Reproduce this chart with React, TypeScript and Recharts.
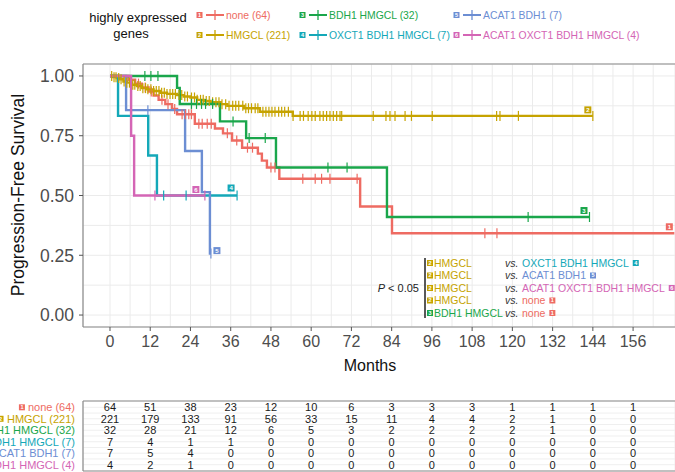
import React from 'react';
import {
  ComposedChart,
  ScatterChart,
  Line,
  Scatter,
  XAxis,
  YAxis,
  CartesianGrid,
  ReferenceLine,
} from 'recharts';

// ---------- data ----------
const groupNames = ['none', 'HMGCL', 'BDH1 HMGCL', 'OXCT1 BDH1 HMGCL', 'ACAT1 BDH1', 'ACAT1 OXCT1 BDH1 HMGCL'];
const groupCounts = [64, 221, 32, 7, 7, 4];
const groupColors = ['#EE6B62', '#C6A300', '#1AA64B', '#14A8B8', '#6C8ED3', '#D465B5'];

// step times (months) and survival after each step; last entry = end of follow-up
const noneTimes = [0, 5.5, 7.5, 9.5, 11.5, 13, 14.5, 16.5, 18.5, 20, 25.3, 31.3, 33.7, 36.4, 39.4, 44.1, 45.3, 46.8, 50.5, 74.6, 84.1, 168.3];
const noneSurv = [1, 0.984, 0.968, 0.952, 0.935, 0.918, 0.9, 0.882, 0.862, 0.84, 0.8, 0.78, 0.76, 0.73, 0.7, 0.675, 0.646, 0.617, 0.57, 0.454, 0.342, 0.342];
const noneCensor = [8.5, 10.5, 12.3, 15.5, 17.3, 19.3, 21.5, 22.5, 23.5, 24.3, 26.5, 27.5, 29, 30.2, 35, 37.8, 41, 42.5, 48, 49.2, 57.5, 61.2, 63.1, 65.6, 73.7, 111.8, 115.4];

const hmgclTimes = [0, 1, 2, 3, 4, 5, 6.5, 8, 9.5, 11, 13, 15, 17, 20, 22, 24, 26, 28, 30, 33, 35, 40, 44.7, 54.5, 144];
const hmgclSurv = [1, 0.995, 0.991, 0.986, 0.977, 0.972, 0.963, 0.958, 0.949, 0.944, 0.937, 0.93, 0.925, 0.92, 0.914, 0.91, 0.9, 0.895, 0.89, 0.882, 0.875, 0.865, 0.85, 0.833, 0.833];
const hmgclCensor = [0.5, 1.2, 1.8, 2.6, 3.3, 4.2, 5, 5.8, 6.8, 7.4, 8.3, 9, 9.8, 10.6, 11.3, 12.2, 13, 13.8, 14.6, 15.4, 16.2, 17, 17.9, 18.7, 19.5, 20.6, 21.4, 22.3, 23.1, 24.3, 25.2, 26, 27, 27.8, 28.7, 29.6, 30.6, 31.6, 32.5, 33.4, 34.5, 35.5, 36.6, 37.5, 38.4, 39.6, 40.5, 41.3, 42.2, 43.3, 44.1, 45.6, 46.5, 47.4, 48.3, 49.2, 50.3, 51.2, 52.1, 53.2, 54.6, 56.7, 57.7, 59.1, 60.2, 61.2, 62.6, 63.6, 64.6, 65.6, 66.6, 67.6, 68.6, 69.1, 78.5, 82.3, 83.5, 85, 88, 89.9, 96.1, 115.3, 116.3, 121.8, 144];

const bdhTimes = [0, 20, 20.8, 32.8, 40.6, 49.5, 82.6, 143];
const bdhSurv = [1, 0.95, 0.883, 0.81, 0.74, 0.617, 0.41, 0.41];
const bdhCensor = [10.4, 12.2, 14.3, 24.3, 25.8, 27.3, 28.5, 30.6, 36.7, 41.5, 46.3, 65, 70.7, 124.7, 143];

const oxctTimes = [0, 2.4, 11.4, 14, 37.9];
const oxctSurv = [1, 0.833, 0.667, 0.5, 0.5];
const oxctCensor = [16, 22.7, 37.9];

const acatTimes = [0, 4.8, 22.4, 27.4, 29.8, 30.1];
const acatSurv = [1, 0.857, 0.686, 0.514, 0.257, 0.257];
const acatCensor = [11.3, 30.1];

const allTimes = [0, 6.3, 7.2, 28.3];
const allSurv = [1, 0.75, 0.5, 0.5];
const allCensor = [13.4, 28.3];

// axis ticks
const monthTicks = [0, 12, 24, 36, 48, 60, 72, 84, 96, 108, 120, 132, 144, 156];
const minorMonthTicks = [6, 18, 30, 42, 54, 66, 78, 90, 102, 114, 126, 138, 150, 162];
const survTicks = [0, 0.25, 0.5, 0.75, 1];
const minorSurvTicks = [0.125, 0.375, 0.625, 0.875];

// number at risk
const riskNone = [64, 51, 38, 23, 12, 10, 6, 3, 3, 3, 1, 1, 1, 1];
const riskHmgcl = [221, 179, 133, 91, 56, 33, 15, 11, 4, 4, 2, 1, 0, 0];
const riskBdh = [32, 28, 21, 12, 6, 5, 3, 2, 2, 2, 2, 1, 0, 0];
const riskOxct = [7, 4, 1, 1, 0, 0, 0, 0, 0, 0, 0, 0, 0, 0];
const riskAcat = [7, 5, 4, 0, 0, 0, 0, 0, 0, 0, 0, 0, 0, 0];
const riskAll = [4, 2, 1, 0, 0, 0, 0, 0, 0, 0, 0, 0, 0, 0];

// pairwise comparisons with P < 0.05 (group indices)
const pairLeft = [1, 1, 1, 1, 2];
const pairRight = [3, 4, 5, 0, 0];

// ---------- styling / layout ----------
const FONT = '"Liberation Sans", Arial, Helvetica, sans-serif';
const X_DOMAIN: [number, number] = [-8.05, 168.5];
const badgeOffsets = [[-5, -6.5], [-5, -6], [-5.5, -6.5], [-6, -7.5], [6, -3], [-9, -6]];

const groups = [
  { times: noneTimes, surv: noneSurv, censor: noneCensor },
  { times: hmgclTimes, surv: hmgclSurv, censor: hmgclCensor },
  { times: bdhTimes, surv: bdhSurv, censor: bdhCensor },
  { times: oxctTimes, surv: oxctSurv, censor: oxctCensor },
  { times: acatTimes, surv: acatSurv, censor: acatCensor },
  { times: allTimes, surv: allSurv, censor: allCensor },
];
const riskRows = [riskNone, riskHmgcl, riskBdh, riskOxct, riskAcat, riskAll];

const survAt = (times: number[], surv: number[], t: number) => {
  let s = surv[0];
  for (let i = 0; i < times.length; i++) if (times[i] <= t) s = surv[i];
  return s;
};

let measureCtx: CanvasRenderingContext2D | null = null;
const textWidth = (s: string, size: number, italic = false) => {
  if (!measureCtx) measureCtx = document.createElement('canvas').getContext('2d');
  if (!measureCtx) return s.length * size * 0.55;
  measureCtx.font = `${italic ? 'italic ' : ''}${size}px "Liberation Sans"`;
  return measureCtx.measureText(s).width;
};

const Badge = ({ x, y, n, size = 7, fs = 6 }: { x: number; y: number; n: number; size?: number; fs?: number }) => (
  <g>
    <rect x={x - size / 2} y={y - size / 2} width={size} height={size} fill={groupColors[n - 1]} />
    <text x={x} y={y} dy="0.36em" textAnchor="middle" fontSize={fs} fontWeight="bold" fill="#fff">
      {n}
    </text>
  </g>
);

const allXTicks = [...monthTicks, ...minorMonthTicks].sort((a, b) => a - b);
const allYTicks = [...survTicks, ...minorSurvTicks].sort((a, b) => a - b);

const XTick = (props: any) => {
  const { x, y, payload } = props;
  if (!monthTicks.includes(payload.value)) return <g />;
  return (
    <g>
      <line x1={x} x2={x} y1={y - 6} y2={y - 2} stroke="#555" strokeWidth={1} />
      <text x={x} y={y} dy="0.85em" textAnchor="middle" fontSize={16} fill="#4D4D4D">
        {payload.value}
      </text>
    </g>
  );
};

const YTick = (props: any) => {
  const { x, y, payload } = props;
  if (!survTicks.includes(payload.value)) return <g />;
  return (
    <g>
      <line x1={x + 4} x2={x + 8} y1={y} y2={y} stroke="#555" strokeWidth={1} />
      <text x={x - 1} y={y} dy="0.36em" textAnchor="end" fontSize={17.5} fill="#4D4D4D">
        {payload.value.toFixed(2)}
      </text>
    </g>
  );
};

const TableYTick = (props: any) => {
  const { x, y, payload } = props;
  const r = payload.value;
  if (!Number.isInteger(r)) return <g />;
  const label = `${groupNames[r - 1]} (${groupCounts[r - 1]})`;
  const w = textWidth(label, 11);
  return (
    <g>
      <Badge x={x - w - 6} y={y} n={r} size={6} fs={5.5} />
      <text x={x} y={y} dy="0.36em" textAnchor="end" fontSize={11} fill={groupColors[r - 1]}>
        {label}
      </text>
    </g>
  );
};

const censorShape = (color: string) => (p: any) => (
  <line x1={p.cx} x2={p.cx} y1={p.cy - 5} y2={p.cy + 5} stroke={color} strokeWidth={1.2} />
);

const badgeShape = (gi: number) => (p: any) => (
  <Badge x={p.cx + badgeOffsets[gi][0]} y={p.cy + badgeOffsets[gi][1]} n={gi + 1} />
);

const tableData = riskRows.flatMap((row, ri) => row.map((n, i) => ({ x: monthTicks[i], y: ri + 1, n })));

export default function App() {
  const legendCols = [197, 300, 454];
  const legendRows = [15, 35];
  const legendFs = 10.4;
  const pRowY = (i: number) => 263 + i * 12.5;
  return (
    <div style={{ position: 'absolute', left: 0, top: 0, width: 675, height: 472, overflow: 'hidden', background: '#fff', fontFamily: FONT }}>
      <div style={{ position: 'absolute', left: 0, top: 0 }}>
        <ComposedChart width={675} height={380} margin={{ top: 64, right: 0, bottom: 0, left: 0 }}>
          <CartesianGrid stroke="#EBEBEB" strokeWidth={1} />
          <XAxis
            type="number"
            dataKey="x"
            domain={X_DOMAIN}
            allowDataOverflow
            ticks={allXTicks}
            interval={0}
            tick={<XTick />}
            tickLine={false}
            tickSize={4}
            tickMargin={2}
            height={53}
            axisLine={{ stroke: '#8A8A8A', strokeWidth: 1.2 }}
          />
          <YAxis
            type="number"
            dataKey="y"
            domain={[-0.05, 1.05]}
            allowDataOverflow
            ticks={allYTicks}
            interval={0}
            tick={<YTick />}
            tickLine={false}
            tickSize={4}
            tickMargin={4}
            width={83}
            axisLine={{ stroke: '#8A8A8A', strokeWidth: 1.2 }}
          />
          <ReferenceLine y={1.05} stroke="#8A8A8A" strokeWidth={1.2} />
          {groups.map((g, gi) => (
            <Line
              key={'l' + gi}
              data={g.times.map((t, i) => ({ x: t, y: g.surv[i] }))}
              dataKey="y"
              type="stepAfter"
              stroke={groupColors[gi]}
              strokeWidth={2.4}
              dot={false}
              activeDot={false}
              isAnimationActive={false}
            />
          ))}
          {groups.map((g, gi) => (
            <Scatter
              key={'c' + gi}
              data={g.censor.map((t) => ({ x: t, y: survAt(g.times, g.surv, t) }))}
              dataKey="y"
              shape={censorShape(groupColors[gi])}
              isAnimationActive={false}
            />
          ))}
          {groups.map((g, gi) => (
            <Scatter
              key={'b' + gi}
              data={[{ x: g.times[g.times.length - 1], y: g.surv[g.surv.length - 1] }]}
              dataKey="y"
              shape={badgeShape(gi)}
              isAnimationActive={false}
            />
          ))}
        </ComposedChart>
      </div>

      <div style={{ position: 'absolute', left: 0, top: 380 }}>
        <ScatterChart width={675} height={92} margin={{ top: 21, right: 0, bottom: 0, left: 0 }}>
          <CartesianGrid stroke="#EFEFEF" strokeWidth={1} />
          <XAxis
            type="number"
            dataKey="x"
            domain={X_DOMAIN}
            allowDataOverflow
            ticks={allXTicks}
            interval={0}
            tick={false}
            tickLine={false}
            height={1}
            axisLine={{ stroke: '#8A8A8A', strokeWidth: 1.2 }}
          />
          <YAxis
            type="number"
            dataKey="y"
            domain={[0.45, 6.55]}
            reversed
            allowDataOverflow
            ticks={[1, 1.5, 2, 2.5, 3, 3.5, 4, 4.5, 5, 5.5, 6]}
            interval={0}
            tick={<TableYTick />}
            tickLine={false}
            tickSize={6}
            tickMargin={2}
            width={83}
            axisLine={{ stroke: '#8A8A8A', strokeWidth: 1.2 }}
          />
          <ReferenceLine y={0.45} stroke="#8A8A8A" strokeWidth={1.2} />
          <Scatter
            data={tableData}
            dataKey="y"
            isAnimationActive={false}
            shape={(p: any) => (
              <text x={p.cx} y={p.cy} dy="0.36em" textAnchor="middle" fontSize={11} fill="#1a1a1a">
                {p.payload.n}
              </text>
            )}
          />
        </ScatterChart>
      </div>

      <svg width={675} height={472} style={{ position: 'absolute', left: 0, top: 0, pointerEvents: 'none', fontFamily: FONT }}>
        {/* legend */}
        <text x={138} y={22} textAnchor="middle" fontSize={13} fill="#111">highly expressed</text>
        <text x={131} y={38} textAnchor="middle" fontSize={13} fill="#111">genes</text>
        {groupNames.map((name, i) => {
          const x0 = legendCols[Math.floor(i / 2)];
          const y0 = legendRows[i % 2];
          return (
            <g key={'lg' + i}>
              <Badge x={x0 + 2.5} y={y0} n={i + 1} size={6} fs={5.5} />
              <line x1={x0 + 9} x2={x0 + 27} y1={y0} y2={y0} stroke={groupColors[i]} strokeWidth={2} />
              <line x1={x0 + 18} x2={x0 + 18} y1={y0 - 5} y2={y0 + 5} stroke={groupColors[i]} strokeWidth={1.3} />
              <text x={x0 + 29} y={y0} dy="0.36em" fontSize={legendFs} fill={groupColors[i]}>
                {`${name} (${groupCounts[i]})`}
              </text>
            </g>
          );
        })}

        {/* axis titles */}
        <text transform="translate(18,195) rotate(-90)" textAnchor="middle" dy="0.36em" fontSize={17.5} fill="#111">
          Progression-Free Survival
        </text>
        <text x={370} y={371} textAnchor="middle" fontSize={16} fill="#111">Months</text>

        {/* p-value annotation */}
        <line x1={425} x2={425} y1={258} y2={318} stroke="#222" strokeWidth={1.5} />
        <text x={419} y={288} dy="0.36em" textAnchor="end" fontSize={11} fill="#222">
          <tspan fontStyle="italic">P</tspan> &lt; 0.05
        </text>
        {pairLeft.map((li, i) => {
          const ri = pairRight[i];
          const y = pRowY(i);
          const rw = textWidth(groupNames[ri], 10.5);
          return (
            <g key={'p' + i}>
              <Badge x={430} y={y} n={li + 1} size={6} fs={5.5} />
              <text x={434} y={y} dy="0.36em" fontSize={10.5} fill={groupColors[li]}>{groupNames[li]}</text>
              <text x={505} y={y} dy="0.36em" fontSize={10.5} fontStyle="italic" fill="#333">vs.</text>
              <text x={522} y={y} dy="0.36em" fontSize={10.5} fill={groupColors[ri]}>{groupNames[ri]}</text>
              <Badge x={522 + rw + 7} y={y} n={ri + 1} size={6} fs={5.5} />
            </g>
          );
        })}
      </svg>
    </div>
  );
}
